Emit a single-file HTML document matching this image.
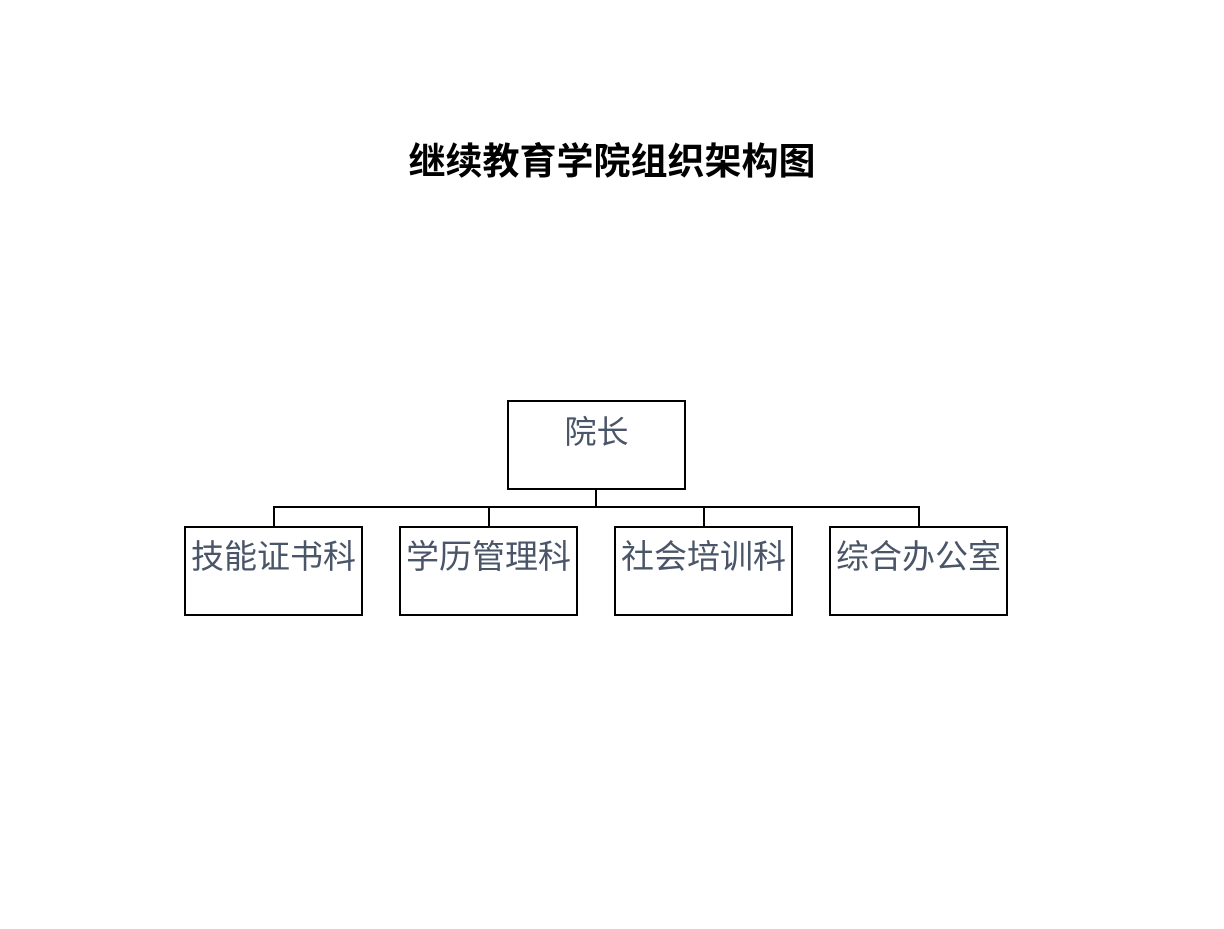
<!DOCTYPE html>
<html><head><meta charset="utf-8"><style>
body{margin:0;width:1224px;height:929px;background:#fff;position:relative;font-family:"Liberation Sans","Noto Sans CJK SC",sans-serif;overflow:hidden}
.t{position:absolute;left:0;width:1224px;top:140px;text-align:center;font-size:37px;font-weight:bold;color:#000;line-height:44px}
.b{position:absolute;border:2px solid #000;box-sizing:border-box;width:179px;height:90px;text-align:center;color:#4a5568;font-size:33px;line-height:40px;padding-top:9px;white-space:nowrap}
.l{position:absolute;background:#000}
</style></head><body>
<div class="t">继续教育学院组织架构图</div>
<div class="b" style="left:507px;top:400px;font-size:32px;padding-top:10px">院长</div>
<div class="b" style="left:184px;top:526px">技能证书科</div>
<div class="b" style="left:399px;top:526px">学历管理科</div>
<div class="b" style="left:614px;top:526px">社会培训科</div>
<div class="b" style="left:829px;top:526px">综合办公室</div>
<div class="l" style="left:595px;top:489px;width:2px;height:19px"></div>
<div class="l" style="left:273px;top:506px;width:647px;height:2px"></div>
<div class="l" style="left:273px;top:506px;width:2px;height:21px"></div>
<div class="l" style="left:488px;top:506px;width:2px;height:21px"></div>
<div class="l" style="left:703px;top:506px;width:2px;height:21px"></div>
<div class="l" style="left:918px;top:506px;width:2px;height:21px"></div>
</body></html>
